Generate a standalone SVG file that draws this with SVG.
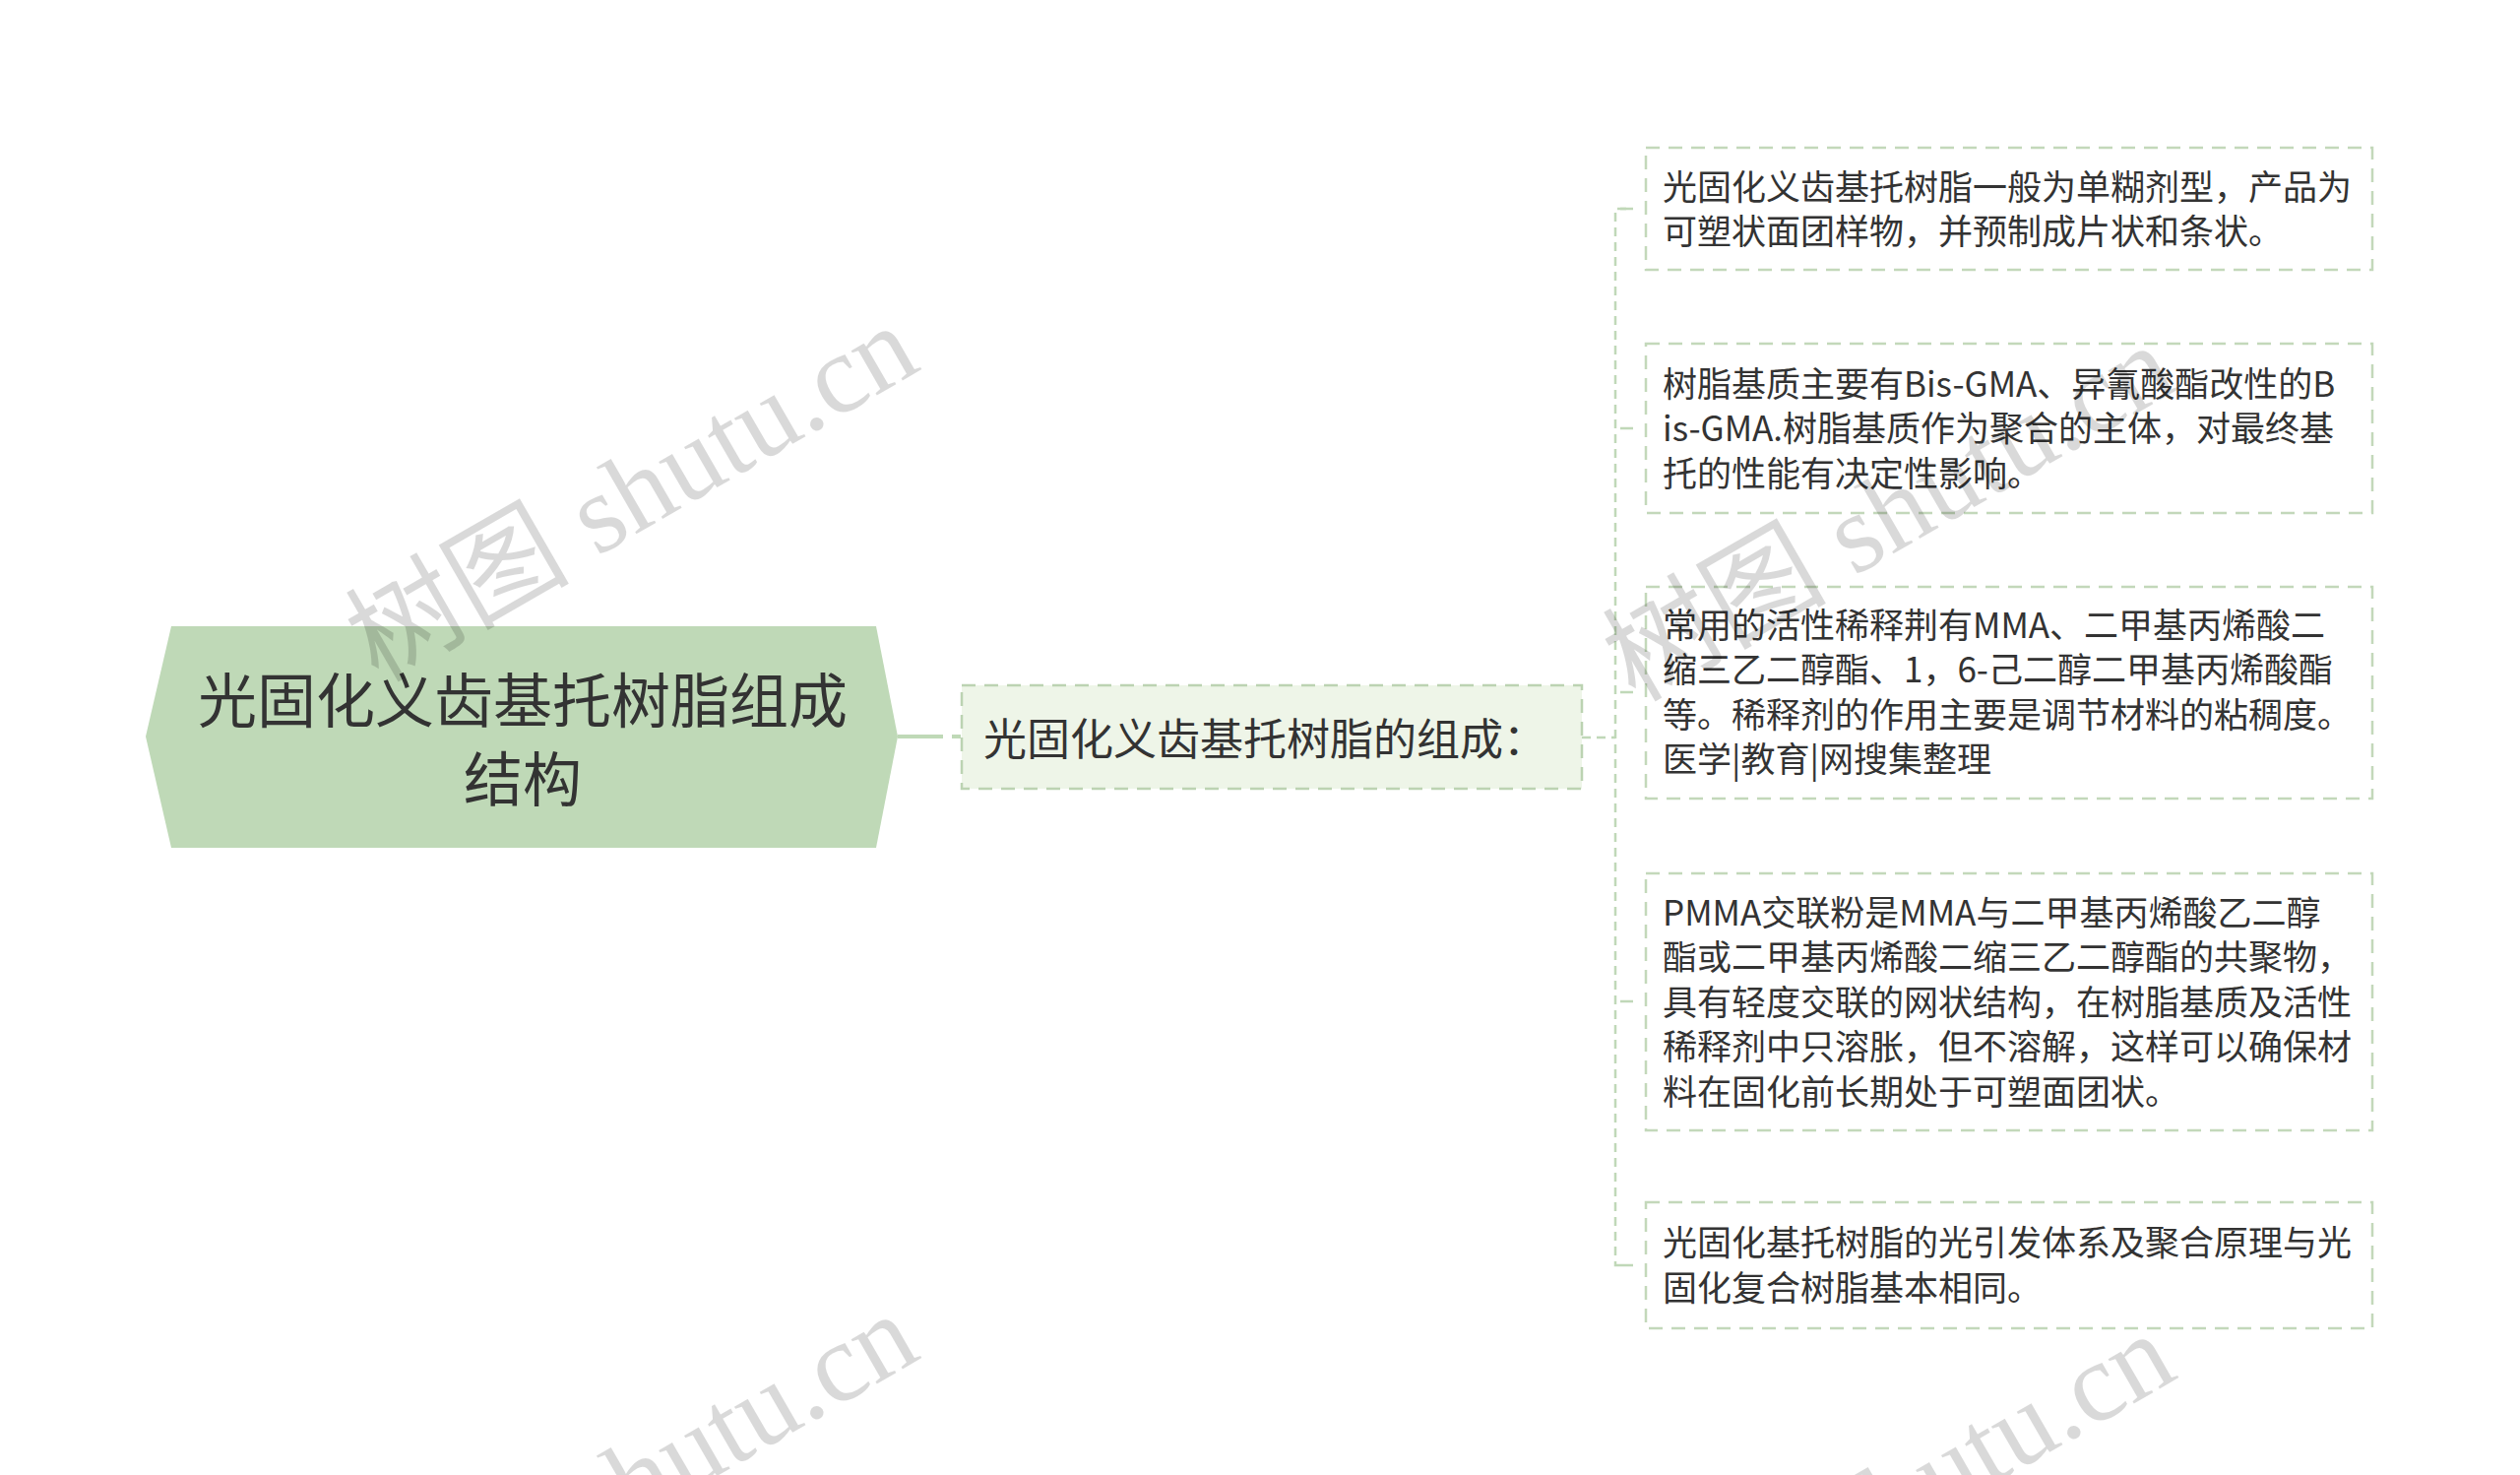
<svg xmlns="http://www.w3.org/2000/svg" width="2560" height="1498" viewBox="0 0 2560 1498">
<style>
.bg{fill:#ffffff}
.root{fill:#bfd9b7}
.child{fill:#eef5e8;stroke:#bcd3b2;stroke-width:2.5;stroke-dasharray:14 9}
.leaf{fill:#ffffff;stroke:#c3d8ba;stroke-width:2.5;stroke-dasharray:14 9}
.t{font-family:"Noto Sans CJK SC","Noto Sans",sans-serif;fill:#333333}
.rt{font-size:60px;text-anchor:middle}
.ct{font-size:44px}
.lt{font-size:35px}
.c{fill:none;stroke:#c0d8b8;stroke-width:2.5}
.cd{stroke-dasharray:9 6}
.tick{stroke-dasharray:0 5 13 40}
.main{stroke:#bfd9b7;stroke-width:4}
.wm{font-family:"Liberation Serif","Noto Sans CJK SC",serif;font-size:114px;fill:#000000;fill-opacity:0.15}
</style>
<rect class="bg" x="0" y="0" width="2560" height="1498"/>

<g id="connectors">
  <path class="c main" d="M912,748 H958"/>
  <path class="c main" d="M967,748 H976"/>
  <path class="c cd" d="M1607,749 H1641"/>
  <path class="c cd" d="M1652,212 H1641 V1285 H1652"/>
  <path class="c tick" d="M1641,212 H1672"/>
  <path class="c tick" d="M1641,435 H1672"/>
  <path class="c tick" d="M1641,703 H1672"/>
  <path class="c tick" d="M1641,1017 H1672"/>
  <path class="c tick" d="M1641,1285 H1672"/>
</g>

<g id="root">
  <polygon class="root" points="174,636 890,636 912,748 890,861 174,861 148,748"/>
  <text class="t rt" x="531" y="734">光固化义齿基托树脂组成</text>
  <text class="t rt" x="531" y="814">结构</text>
</g>

<g id="child">
  <rect class="child" x="977" y="696" width="630" height="105"/>
  <text class="t ct" x="999" y="767">光固化义齿基托树脂的组成：</text>
</g>

<g id="leaf1">
  <rect class="leaf" x="1672" y="150" width="738" height="124"/>
  <text class="t lt" x="1689" y="203">光固化义齿基托树脂一般为单糊剂型，产品为</text>
  <text class="t lt" x="1689" y="248">可塑状面团样物，并预制成片状和条状。</text>
</g>

<g id="leaf2">
  <rect class="leaf" x="1672" y="349" width="738" height="172"/>
  <text class="t lt" x="1689" y="403">树脂基质主要有Bis-GMA、异氰酸酯改性的B</text>
  <text class="t lt" x="1689" y="448">is-GMA.树脂基质作为聚合的主体，对最终基</text>
  <text class="t lt" x="1689" y="494">托的性能有决定性影响。</text>
</g>

<g id="leaf3">
  <rect class="leaf" x="1672" y="596" width="738" height="215"/>
  <text class="t lt" x="1689" y="648">常用的活性稀释荆有MMA、二甲基丙烯酸二</text>
  <text class="t lt" x="1689" y="693">缩三乙二醇酯、1，6-己二醇二甲基丙烯酸酯</text>
  <text class="t lt" x="1689" y="739">等。稀释剂的作用主要是调节材料的粘稠度。</text>
  <text class="t lt" x="1689" y="784">医学|教育|网搜集整理</text>
</g>

<g id="leaf4">
  <rect class="leaf" x="1672" y="887" width="738" height="261"/>
  <text class="t lt" x="1689" y="940">PMMA交联粉是MMA与二甲基丙烯酸乙二醇</text>
  <text class="t lt" x="1689" y="985">酯或二甲基丙烯酸二缩三乙二醇酯的共聚物，</text>
  <text class="t lt" x="1689" y="1031">具有轻度交联的网状结构，在树脂基质及活性</text>
  <text class="t lt" x="1689" y="1076">稀释剂中只溶胀，但不溶解，这样可以确保材</text>
  <text class="t lt" x="1689" y="1122">料在固化前长期处于可塑面团状。</text>
</g>

<g id="leaf5">
  <rect class="leaf" x="1672" y="1221" width="738" height="128"/>
  <text class="t lt" x="1689" y="1275">光固化基托树脂的光引发体系及聚合原理与光</text>
  <text class="t lt" x="1689" y="1321">固化复合树脂基本相同。</text>
</g>

<g id="watermarks">
  <text class="wm" transform="translate(384,694) rotate(-30)">树图 shutu.cn</text>
  <text class="wm" transform="translate(1661,714) rotate(-30)">树图 shutu.cn</text>
  <text class="wm" transform="translate(384,1698) rotate(-30)">树图 shutu.cn</text>
  <text class="wm" transform="translate(1661,1718) rotate(-30)">树图 shutu.cn</text>
</g>
</svg>
